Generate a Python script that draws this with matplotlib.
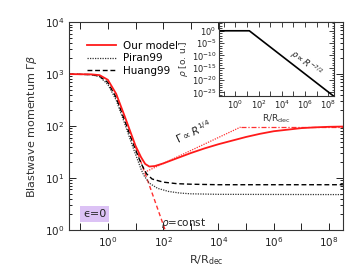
import numpy as np
import matplotlib
matplotlib.use('Agg')
from matplotlib import pyplot as plt

# values, as log10 of R/R_dec and log10 of Gamma*beta
our_logr = [-1.4, -0.6, -0.3, 0.0, 0.3, 0.6, 0.8, 1.0, 1.2, 1.35, 1.5, 1.7, 2.0, 2.5, 3.0,
            3.5, 4.0, 4.5, 5.0, 5.5, 6.0, 6.5, 7.0, 7.5, 8.0, 8.5]
our_logg = [3.0, 2.995, 2.98, 2.89, 2.62, 2.2, 1.91, 1.62, 1.40, 1.27, 1.22, 1.23, 1.28, 1.38, 1.48,
            1.57, 1.65, 1.72, 1.79, 1.85, 1.90, 1.93, 1.96, 1.975, 1.985, 1.99]

piran_logr = [-1.4, -0.6, -0.3, 0.0, 0.3, 0.6, 0.9, 1.2, 1.3, 1.5, 1.8, 2.2, 2.6, 3.0, 4.0, 8.5]
piran_logg = [3.0, 2.99, 2.95, 2.80, 2.50, 2.06, 1.60, 1.17, 1.05, 0.90, 0.80, 0.74, 0.71, 0.695, 0.685, 0.68]

huang_logr = [-1.4, -0.6, -0.3, 0.0, 0.3, 0.6, 0.9, 1.2, 1.4, 1.6, 2.0, 2.5, 3.0, 4.0, 8.5]
huang_logg = [3.0, 2.99, 2.96, 2.84, 2.55, 2.12, 1.68, 1.28, 1.08, 0.98, 0.92, 0.89, 0.88, 0.87, 0.87]

const_logr = [1.0, 1.5, 2.07]          # rho = const branch
const_logg = [1.6, 0.86, 0.0]
wind_logr = [1.33, 4.8]                # Gamma ~ R^(1/4) branch
wind_logg = [1.11, 1.98]
sat_logr = [4.8, 8.5]                  # saturation
sat_logg = [1.98, 1.98]

# inset: density profile
rho_logr = [-1.4, 1.2, 8.4]
rho_logv = [0.0, 0.0, -26.3]

xlim = (10**-1.4, 10**8.5)

plt.rcParams['font.family'] = ['DejaVu Sans']
plt.rcParams['mathtext.fontset'] = 'dejavusans'

fig = plt.figure(figsize=(3.64, 2.77), dpi=100)
ax = fig.add_axes([0.19, 0.17, 0.752, 0.75])

r = lambda a: 10**np.array(a)

ax.plot(r(const_logr), r(const_logg), color='#ff3030', ls=(0, (3, 2)), lw=1.0)
ax.plot(r(wind_logr), r(wind_logg), color='#ff3030', ls=(0, (1, 1)), lw=0.9)
ax.plot(r(sat_logr), r(sat_logg), color='#ff3030', ls=(0, (4, 1.5, 1, 1.5)), lw=0.9)
ax.plot(r(piran_logr), r(piran_logg), color='#333333', ls=(0, (1, 1)), lw=0.9, label='Piran99')
ax.plot(r(huang_logr), r(huang_logg), color='black', ls=(0, (3.5, 2)), lw=1.0, label='Huang99')
ax.plot(r(our_logr), r(our_logg), color='#ff1a1a', lw=1.3, label='Our model')

ax.set_xscale('log')
ax.set_yscale('log')
ax.set_xlim(*xlim)
ax.set_ylim(1, 1e4)

ax.set_xticks([10.0**k for k in range(-1, 9)])
ax.set_xticklabels(['' if k % 2 else '$10^{%d}$' % k for k in range(-1, 9)])
ax.xaxis.set_minor_locator(matplotlib.ticker.NullLocator())
ax.yaxis.set_minor_formatter(matplotlib.ticker.NullFormatter())
ax.tick_params(which='both', direction='in', top=True, right=True, labelsize=7.5, colors='#222222', width=0.7)
ax.tick_params(which='major', length=5)
ax.tick_params(which='minor', length=2.5)
for s in ax.spines.values():
    s.set_linewidth(0.8)
    s.set_color('#333333')

ax.set_xlabel(r'R/R$_{\rm dec}$', fontsize=8, color='#333333', labelpad=3)
ax.set_ylabel(r'Blastwave momentum $\Gamma\beta$', fontsize=8, color='#333333', labelpad=4)

h, l = ax.get_legend_handles_labels()
order = [2, 0, 1]
ax.legend([h[i] for i in order], [l[i] for i in order], loc='upper left', bbox_to_anchor=(0.03, 0.955),
          frameon=False, fontsize=7.5, handlelength=2.8, labelspacing=0.25, handletextpad=0.7)

ax.text(10**2.55, 10**1.66, r'$\Gamma\propto R^{1/4}$', rotation=25, rotation_mode='anchor',
        ha='left', va='baseline', fontsize=7.5, color='#222222')
ax.text(10**1.93, 10**0.07, r'$\rho$=const', ha='left', va='baseline', fontsize=7.5, color='#222222')
ax.text(0.093, 0.077, 'ϵ=0', transform=ax.transAxes, ha='center', va='center', fontsize=8,
        color='#222222', bbox=dict(facecolor='#dcc2f5', edgecolor='none', pad=2.0))

# inset
ins = fig.add_axes([0.602, 0.653, 0.316, 0.267])
ins.plot(r(rho_logr), r(rho_logv), color='black', lw=1.2)
ins.set_xscale('log')
ins.set_yscale('log')
ins.set_xlim(*xlim)
ins.set_ylim(10**-26.5, 10**3.5)
ins.set_xticks([10.0**k for k in range(-1, 9)])
ins.set_xticklabels(['' if k % 2 else '$10^{%d}$' % k for k in range(-1, 9)])
ins.xaxis.set_minor_locator(matplotlib.ticker.NullLocator())
ins.set_yticks([10.0**k for k in range(-25, 1, 5)])
ins.set_yticklabels(['$10^{%d}$' % k for k in range(-25, 1, 5)])
ins.yaxis.set_minor_locator(matplotlib.ticker.FixedLocator([10.0**k for k in range(-26, 4)]))
ins.yaxis.set_minor_formatter(matplotlib.ticker.NullFormatter())
ins.tick_params(which='both', direction='in', top=True, right=True, labelsize=6, colors='#222222',
                width=0.6, pad=2)
ins.tick_params(which='major', length=3.5)
ins.tick_params(which='minor', length=1.8)
for s in ins.spines.values():
    s.set_linewidth(0.8)
    s.set_color('#333333')
ins.set_xlabel(r'R/R$_{\rm dec}$', fontsize=6.5, color='#333333', labelpad=1)
ins.set_ylabel(r'$\rho$ [o. u.]', fontsize=6.5, color='#333333', labelpad=1)
ins.text(10**6.1, 10**-13.3, r'$\rho\propto R^{-7/2}$', rotation=-38, ha='center', va='center',
         fontsize=6, color='#222222')

fig.savefig('out.png', dpi=100)
